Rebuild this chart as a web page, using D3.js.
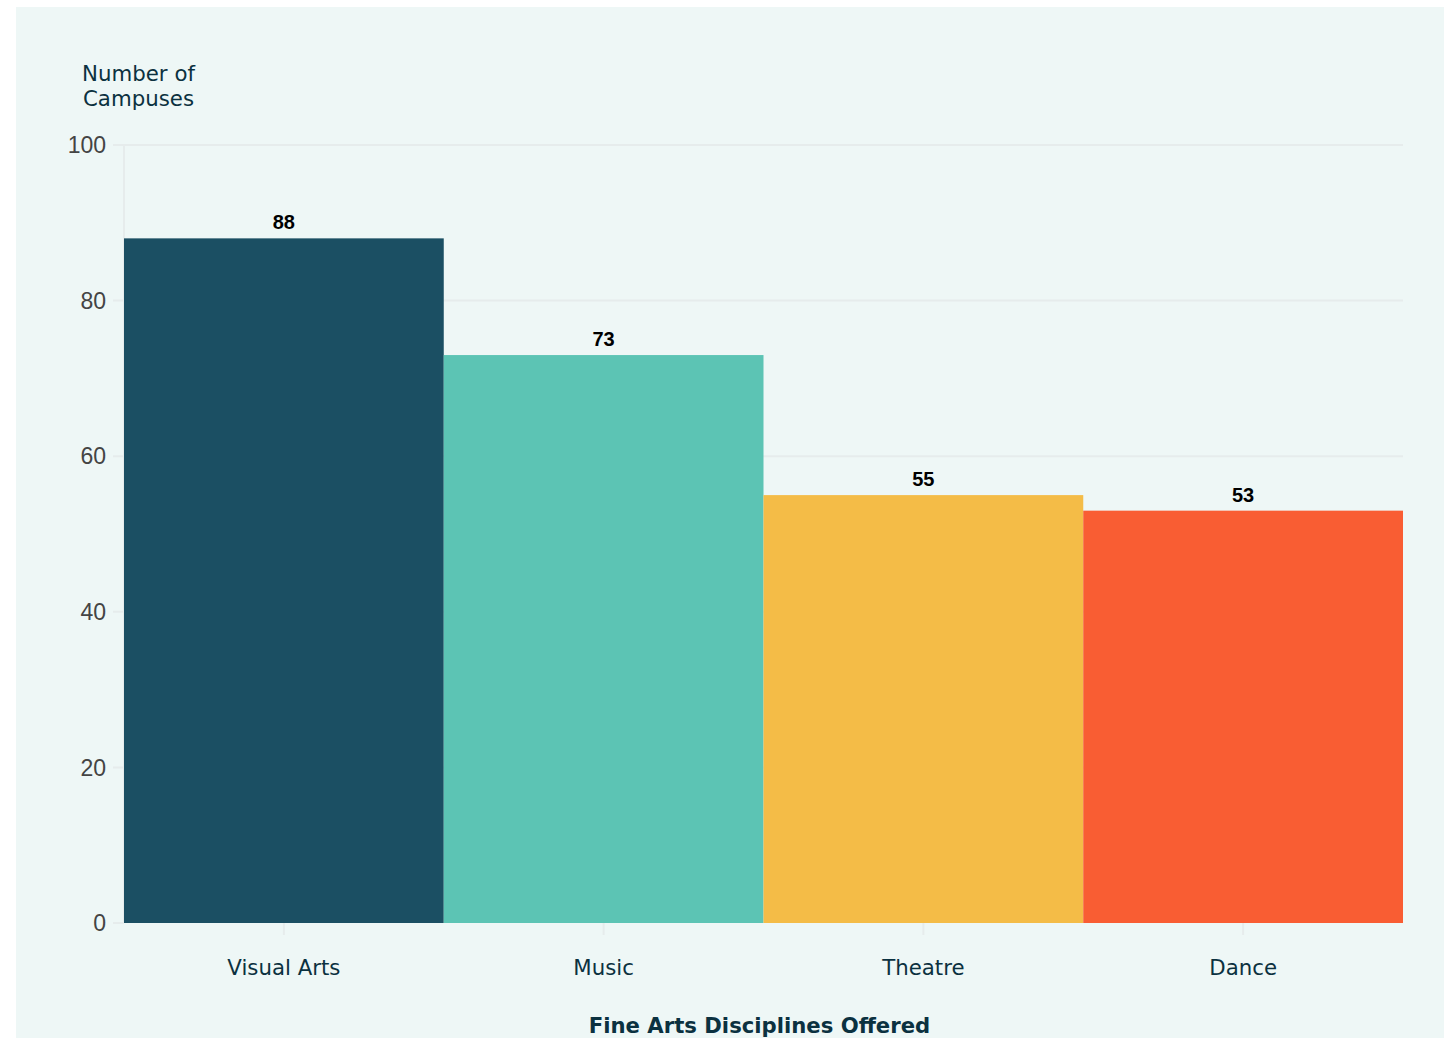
<!DOCTYPE html>
<html>
<head>
<meta charset="utf-8">
<script src="https://cdn.jsdelivr.net/npm/d3@7"></script>
<style>
  html, body { margin: 0; padding: 0; background: #ffffff; }
  svg { display: block; }
</style>
</head>
<body>
<div id="chart"></div>
<script>
// Fine arts disciplines offered across campuses
const categories = ["Visual Arts", "Music", "Theatre", "Dance"];
const campusCounts = [88, 73, 55, 53];
const barColors = ["#1b4f63", "#5cc4b4", "#f4bc47", "#f95d33"];
const yTicks = [0, 20, 40, 60, 80, 100];

const W = 1444, H = 1038;
const margin = { left: 124, right: 41, top: 145, bottom: 115 };

const svg = d3.select("#chart").append("svg")
  .attr("width", W).attr("height", H);

// panel background
svg.append("rect")
  .attr("x", 16).attr("y", 7)
  .attr("width", W - 16).attr("height", H - 7)
  .attr("fill", "#eef7f6");

const x = d3.scaleBand()
  .domain(categories)
  .range([margin.left, W - margin.right])
  .padding(0);

const y = d3.scaleLinear()
  .domain([0, 100])
  .range([H - margin.bottom, margin.top]);

// horizontal gridlines with short outer tick
const grid = svg.append("g");
grid.selectAll("line.grid")
  .data(yTicks.filter(d => d > 0))
  .join("line")
  .attr("x1", margin.left - 11).attr("x2", W - margin.right)
  .attr("y1", d => y(d)).attr("y2", d => y(d))
  .attr("stroke", "#e6ecec").attr("stroke-width", 2);

// left vertical line
grid.append("line")
  .attr("x1", margin.left).attr("x2", margin.left)
  .attr("y1", y(100)).attr("y2", y(0))
  .attr("stroke", "#e6ecec").attr("stroke-width", 2);

grid.append("line")
  .attr("x1", margin.left - 11).attr("x2", margin.left)
  .attr("y1", y(0)).attr("y2", y(0))
  .attr("stroke", "#e6ecec").attr("stroke-width", 2);

// x ticks at band centers
svg.append("g").selectAll("line")
  .data(categories)
  .join("line")
  .attr("x1", d => x(d) + x.bandwidth() / 2)
  .attr("x2", d => x(d) + x.bandwidth() / 2)
  .attr("y1", y(0)).attr("y2", y(0) + 12)
  .attr("stroke", "#e6ecec").attr("stroke-width", 2);

// bars
svg.append("g").selectAll("rect")
  .data(categories.map((c, i) => ({ c, v: campusCounts[i], col: barColors[i] })))
  .join("rect")
  .attr("x", d => x(d.c))
  .attr("width", x.bandwidth())
  .attr("y", d => y(d.v))
  .attr("height", d => y(0) - y(d.v))
  .attr("fill", d => d.col);

// value labels
svg.append("g").selectAll("text")
  .data(categories.map((c, i) => ({ c, v: campusCounts[i] })))
  .join("text")
  .attr("x", d => x(d.c) + x.bandwidth() / 2)
  .attr("y", d => y(d.v) - 9)
  .attr("text-anchor", "middle")
  .attr("font-family", "'Liberation Sans', Arial, sans-serif")
  .attr("font-weight", "bold")
  .attr("font-size", 20)
  .attr("fill", "#000")
  .text(d => d.v);

// y tick labels
svg.append("g").selectAll("text")
  .data(yTicks)
  .join("text")
  .attr("x", margin.left - 18)
  .attr("y", d => y(d))
  .attr("dy", "0.36em")
  .attr("text-anchor", "end")
  .attr("font-family", "'Liberation Sans', Arial, sans-serif")
  .attr("font-size", 23)
  .attr("fill", "#444")
  .text(d => d);

// category labels
svg.append("g").selectAll("text")
  .data(categories)
  .join("text")
  .attr("x", d => x(d) + x.bandwidth() / 2)
  .attr("y", 975)
  .attr("text-anchor", "middle")
  .attr("font-family", "'DejaVu Sans', Verdana, sans-serif")
  .attr("font-size", 21.3)
  .attr("fill", "#0b3140")
  .text(d => d);

// y axis title
const yt = svg.append("text")
  .attr("font-family", "'DejaVu Sans', Verdana, sans-serif")
  .attr("font-size", 21.3)
  .attr("fill", "#0b3140")
  .attr("text-anchor", "middle");
yt.append("tspan").attr("x", 138.5).attr("y", 81).text("Number of");
yt.append("tspan").attr("x", 138.5).attr("y", 106).text("Campuses");

// x axis title
svg.append("text")
  .attr("x", (margin.left + W - margin.right) / 2 - 4)
  .attr("y", 1033)
  .attr("text-anchor", "middle")
  .attr("font-family", "'DejaVu Sans', Verdana, sans-serif")
  .attr("font-weight", "bold")
  .attr("font-size", 21.2)
  .attr("fill", "#0b3140")
  .text("Fine Arts Disciplines Offered");
</script>
</body>
</html>
